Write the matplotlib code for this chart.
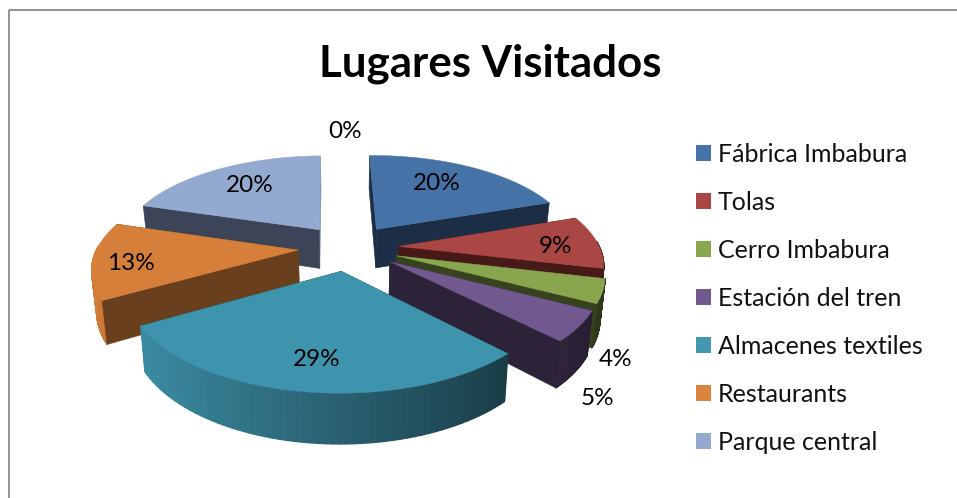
import numpy as np
import matplotlib
matplotlib.use("Agg")
import matplotlib.pyplot as plt
from matplotlib.collections import PolyCollection
from matplotlib.patches import Patch
from matplotlib.colors import to_rgb

categories = ["Fábrica Imbabura", "Tolas", "Cerro Imbabura", "Estación del tren",
              "Almacenes textiles", "Restaurants", "Parque central"]
values = [20, 9, 4, 5, 29, 13, 20]
zero_label = "0%"
top_colors = ["#4572A7", "#AA4643", "#89A54E", "#71588F", "#3F94AD", "#D67F3A", "#93A9CF"]
legend_colors = ["#4572A7", "#AA4643", "#89A54E", "#71588F", "#4198AF", "#DB843D", "#93A9CF"]
wall_colors = ["#1B2E45", "#471A19", "#37421F", "#2D2339", "#1A3C47", "#693F1D", "#3C4558"]
label_xy = [(437, 183), (556, 246), (616, 359), (597, 398), (317, 359), (131, 263), (250, 185)]
zero_xy = (345, 131)
draw_order = [0, 6, 1, 2, 3, 5, 4]

# projection parameters (pixels of the output image)
CX, CY, A, B, K, EXPL, H, SHRINK = 348.5, 247.5, 201.0, 92.0, 0.17, 0.25, 40.0, 0.02
ROT = np.deg2rad(-1.0)

plt.rcParams["font.family"] = ["Lato", "DejaVu Sans"]
fig = plt.figure(figsize=(9.57, 4.98), dpi=100)
ax = fig.add_axes([0, 0, 1, 1])
ax.set_xlim(0, 957)
ax.set_ylim(498, 0)
ax.axis("off")


def project(X, Y, bottom=False):
    s = 1.0 / (1.0 + K * Y)
    px = A * X * s
    py = CY - B * Y * s
    if bottom:
        px = px * (1 - SHRINK)
        py = py + H * s
    return CX + px, py


def shade(color, f):
    return tuple(min(1.0, c * f) for c in to_rgb(color))


total = sum(values)
edges = np.cumsum([0] + values) / total * 2 * np.pi + ROT
for order, i in enumerate(draw_order):
    t0, t1 = edges[i], edges[i + 1]
    mid = (t0 + t1) / 2
    ex, ey = EXPL * np.sin(mid), EXPL * np.cos(mid)
    ts = np.linspace(t0, t1, 60)
    rx, ry = ex + np.sin(ts), ey + np.cos(ts)

    def wall(t):
        xs = np.array([ex, ex + np.sin(t)])
        ys = np.array([ey, ey + np.cos(t)])
        tx, ty = project(xs, ys)
        bx, by = project(xs, ys, True)
        return np.column_stack([np.r_[tx, bx[::-1]], np.r_[ty, by[::-1]]])

    # radial walls facing the viewer go over the rim, the others under it
    z0 = order * 10 + (3 if np.sin(t0) < 0 else 1)
    z1 = order * 10 + (3 if np.sin(t1) > 0 else 1)
    end_col = "#7E92B5" if i == 6 else wall_colors[i]
    ax.fill(*wall(t0).T, color=wall_colors[i], lw=0.4, zorder=z0)
    ax.fill(*wall(t1).T, color=end_col, lw=0.4, zorder=z1)

    tx, ty = project(rx, ry)
    bx, by = project(rx, ry, True)
    quads, cols = [], []
    for j in range(len(ts) - 1):
        tm = (ts[j] + ts[j + 1]) / 2
        if np.cos(tm) > 0.05:  # back of the rim is out of sight
            continue
        quads.append([(tx[j], ty[j]), (tx[j + 1], ty[j + 1]), (bx[j + 1], by[j + 1]), (bx[j], by[j])])
        cols.append(shade(top_colors[i], 0.65 - 0.34 * np.sin(tm)))
    if quads:
        ax.add_collection(PolyCollection(quads, facecolors=cols, edgecolors="face", linewidths=1.0,
                                         zorder=order * 10 + 2))

    ax_, ay_ = project(np.array([ex]), np.array([ey]))
    ax.fill(np.r_[ax_, tx], np.r_[ay_, ty], color=top_colors[i], lw=0.3, zorder=order * 10 + 4)

for v, (x, y) in zip(values, label_xy):
    ax.text(x, y, f"{v}%", ha="center", va="center", fontsize=17.5, color="black", zorder=200)
ax.text(*zero_xy, zero_label, ha="center", va="center", fontsize=17.5, color="black", zorder=200)

ax.text(490, 64, "Lugares Visitados", ha="center", va="center", fontsize=31.6,
        fontweight="bold", color="black")

handles = [Patch(facecolor=c, edgecolor="none") for c in legend_colors]
ax.legend(handles, categories, loc="upper left", bbox_to_anchor=(696 / 957, 1 - 143 / 498),
          frameon=False, fontsize=18, borderpad=0, borderaxespad=0,
          handlelength=0.6, handleheight=0.6, handletextpad=0.28, labelspacing=1.0,
          labelcolor="#111111")

# chart frame
ax.plot([9, 9], [498, 10], color="#8a8a8a", lw=1.3, solid_capstyle="butt")
ax.plot([9, 957], [10, 10], color="#8a8a8a", lw=1.3, solid_capstyle="butt")

fig.savefig("out.png", dpi=100)
